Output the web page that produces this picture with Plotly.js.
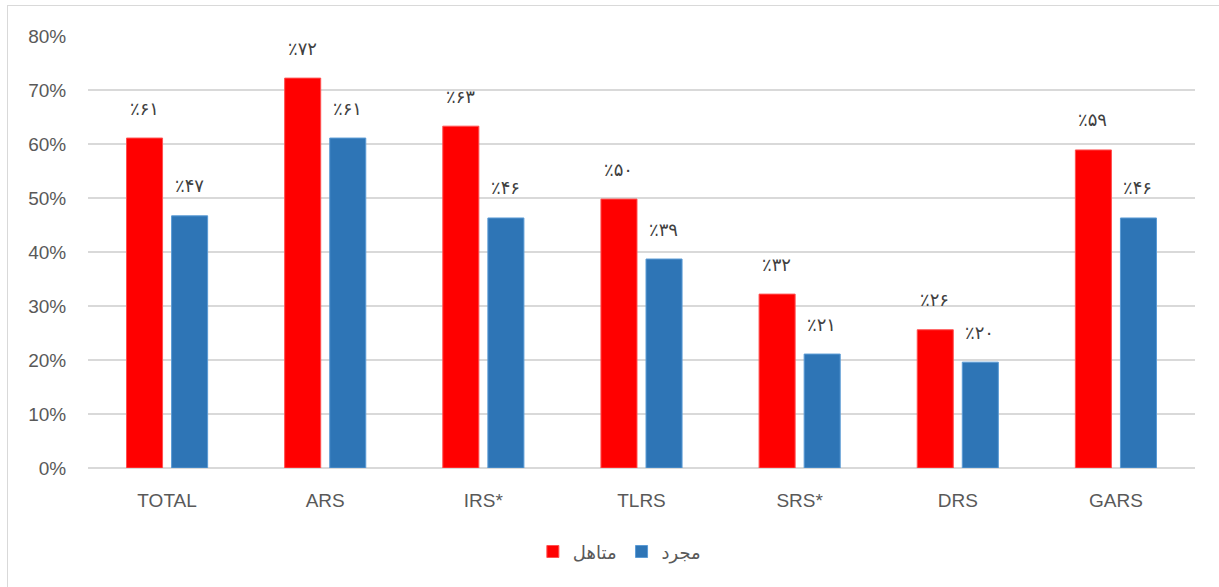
<!DOCTYPE html>
<html>
<head>
<meta charset="utf-8">
<script src="https://cdn.plot.ly/plotly-3.0.1.min.js"></script>
<style>
html,body{margin:0;padding:0;background:#fff;overflow:hidden;}
#frame{position:absolute;left:7px;top:5px;width:1300px;height:700px;border:1.5px solid #d9d9d9;box-sizing:border-box;}
#chart{position:absolute;left:0;top:0;width:1219px;height:587px;}
</style>
</head>
<body>
<div id="frame"></div>
<div id="chart"></div>
<script>
const categories = ["TOTAL", "ARS", "IRS*", "TLRS", "SRS*", "DRS", "GARS"];
const marriedValues = [0.611, 0.722, 0.633, 0.498, 0.322, 0.256, 0.589];
const singleValues = [0.467, 0.611, 0.463, 0.387, 0.211, 0.196, 0.463];
const marriedLabels = ["٪۶۱", "٪۷۲", "٪۶۳", "٪۵۰", "٪۳۲", "٪۲۶", "٪۵۹"];
const singleLabels = ["٪۴۷", "٪۶۱", "٪۴۶", "٪۳۹", "٪۲۱", "٪۲۰", "٪۴۶"];
const marriedName = "متاهل";
const singleName = "مجرد";
const yTickVals = [0, 0.1, 0.2, 0.3, 0.4, 0.5, 0.6, 0.7, 0.8];
const yTickText = ["0%", "10%", "20%", "30%", "40%", "50%", "60%", "70%", "80%"];

const traces = [
  {type: "bar", name: marriedName, x: categories, y: marriedValues,
   marker: {color: "#ff0000", line: {color: "#ff5050", width: 1}}, hoverinfo: "none"},
  {type: "bar", name: singleName, x: categories, y: singleValues,
   marker: {color: "#2e75b6", line: {color: "#5b9bd5", width: 1}}, hoverinfo: "none"}
];

const labelFont = {family: "DejaVu Sans, Noto Sans", size: 18, color: "#404040"};
const annotations = [];
categories.forEach((c, i) => {
  annotations.push({x: c, y: marriedValues[i], xref: "x", yref: "y", text: marriedLabels[i],
    showarrow: false, xshift: -23, yshift: 30, yanchor: "middle", font: labelFont});
  annotations.push({x: c, y: singleValues[i], xref: "x", yref: "y", text: singleLabels[i],
    showarrow: false, xshift: 22, yshift: 30, yanchor: "middle", font: labelFont});
});

const tickFont = {family: "Liberation Sans, Arial", size: 19, color: "#595959"};
const layout = {
  width: 1219, height: 587,
  margin: {l: 88, r: 24, t: 36, b: 119},
  paper_bgcolor: "rgba(0,0,0,0)", plot_bgcolor: "rgba(0,0,0,0)",
  barmode: "group", bargap: 0.43, bargroupgap: 0.2,
  showlegend: true,
  legend: {orientation: "h", x: 0.48, xanchor: "center", y: -0.194, yanchor: "middle",
    font: {family: "DejaVu Sans, Noto Sans", size: 18, color: "#595959"}, itemwidth: 30},
  xaxis: {type: "category", tickfont: tickFont,
    ticks: "outside", ticklen: 15, tickcolor: "rgba(0,0,0,0)", showline: false, showgrid: false, zeroline: false},
  yaxis: {range: [0, 0.8], tickvals: yTickVals, ticktext: yTickText, tickfont: tickFont,
    showgrid: true, gridcolor: "#d9d9d9", gridwidth: 1.5, zeroline: true, zerolinecolor: "#d9d9d9", zerolinewidth: 1.5,
    ticks: "outside", ticklen: 17, tickcolor: "rgba(0,0,0,0)", showline: false},
  annotations: annotations
};

Plotly.newPlot("chart", traces, layout, {displayModeBar: false, staticPlot: true});
</script>
</body>
</html>
